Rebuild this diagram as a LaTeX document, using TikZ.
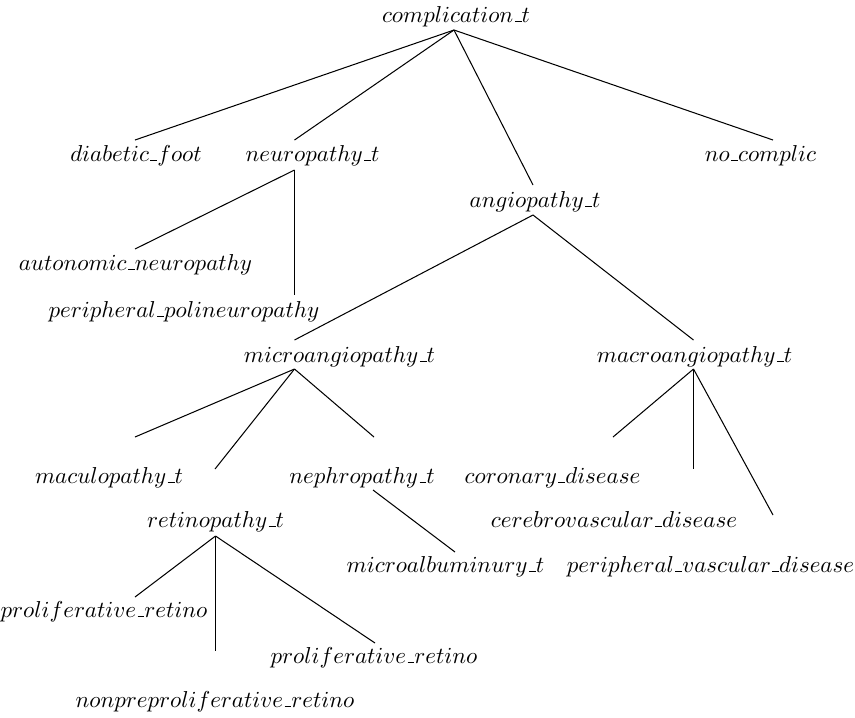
\documentclass[tikz,border=0pt]{standalone}
\newcommand{\usc}{\mbox{\kern.06em\vbox{\hrule width.3em}}}
\begin{document}
\begin{tikzpicture}[x=0.4348pt, y=-0.4348pt,
  lbl/.style={anchor=base, inner sep=0pt, font=\fontsize{10}{12}\selectfont},
  edge/.style={line width=0.45pt, black}]
\useasboundingbox (0,0) rectangle (855,717);
% labels
\node[lbl] (comp)     at (456,22)    {$complication\usc t$};
\node[lbl] (foot)     at (136,161)   {$diabetic\usc foot$};
\node[lbl] (neuro)    at (312.5,161) {$neuropathy\usc t$};
\node[lbl] (nocomp)   at (760.5,161) {$no\usc complic$};
\node[lbl] (angio)    at (535,207)   {$angiopathy\usc t$};
\node[lbl] (auto)     at (135.5,270) {$autonomic\usc neuropathy$};
\node[lbl] (perpoli)  at (184,317)   {$peripheral\usc polineuropathy$};
\node[lbl] (micro)    at (339.5,362) {$microangiopathy\usc t$};
\node[lbl] (macro)    at (694.5,362) {$macroangiopathy\usc t$};
\node[lbl] (macul)    at (109,483)   {$maculopathy\usc t$};
\node[lbl] (nephro)   at (362,483)   {$nephropathy\usc t$};
\node[lbl] (coron)    at (552.5,483) {$coronary\usc disease$};
\node[lbl] (retino)   at (215.5,527) {$retinopathy\usc t$};
\node[lbl] (cerebro)  at (614,527)   {$cerebrovascular\usc disease$};
\node[lbl] (microalb) at (445.5,572) {$microalbuminury\usc t$};
\node[lbl] (perivasc) at (710.5,572) {$peripheral\usc vascular\usc disease$};
\node[lbl] (prolifL)  at (104,617)   {$proliferative\usc retino$};
\node[lbl] (prolifR)  at (374,663)   {$proliferative\usc retino$};
\node[lbl] (nonpre)   at (215,707)   {$nonpreproliferative\usc retino$};
% junctions (below parents)
\coordinate (comp-j)   at (454,30);
\coordinate (neuro-j)  at (294.5,170);
\coordinate (angio-j)  at (533,215);
\coordinate (micro-j)  at (294.5,369);
\coordinate (macro-j)  at (693.5,369);
\coordinate (nephro-j) at (373,490);
\coordinate (retino-j) at (215.5,536);
% line ends (above children)
\coordinate (foot-t)     at (135,140);
\coordinate (neuro-t)    at (294.5,140);
\coordinate (angio-t)    at (533,185);
\coordinate (nocomp-t)   at (773,140);
\coordinate (auto-t)     at (135,249);
\coordinate (perpoli-t)  at (294.5,295);
\coordinate (micro-t)    at (294.5,340);
\coordinate (macro-t)    at (693.5,340);
\coordinate (macul-t)    at (135,437);
\coordinate (retino-t)   at (215,469);
\coordinate (nephro-t)   at (374,437);
\coordinate (coron-t)    at (613,437);
\coordinate (cerebro-t)  at (693.5,469);
\coordinate (perivasc-t) at (773,515);
\coordinate (microalb-t) at (455,552);
\coordinate (prolifL-t)  at (135,597);
\coordinate (nonpre-t)   at (215.5,651);
\coordinate (prolifR-t)  at (375,643);
% connectors
\draw[edge] (comp-j) -- (foot-t);
\draw[edge] (comp-j) -- (neuro-t);
\draw[edge] (comp-j) -- (angio-t);
\draw[edge] (comp-j) -- (nocomp-t);
\draw[edge] (neuro-j) -- (auto-t);
\draw[edge] (neuro-j) -- (perpoli-t);
\draw[edge] (angio-j) -- (micro-t);
\draw[edge] (angio-j) -- (macro-t);
\draw[edge] (micro-j) -- (macul-t);
\draw[edge] (micro-j) -- (retino-t);
\draw[edge] (micro-j) -- (nephro-t);
\draw[edge] (macro-j) -- (coron-t);
\draw[edge] (macro-j) -- (cerebro-t);
\draw[edge] (macro-j) -- (perivasc-t);
\draw[edge] (nephro-j) -- (microalb-t);
\draw[edge] (retino-j) -- (prolifL-t);
\draw[edge] (retino-j) -- (nonpre-t);
\draw[edge] (retino-j) -- (prolifR-t);
\end{tikzpicture}
\end{document}
